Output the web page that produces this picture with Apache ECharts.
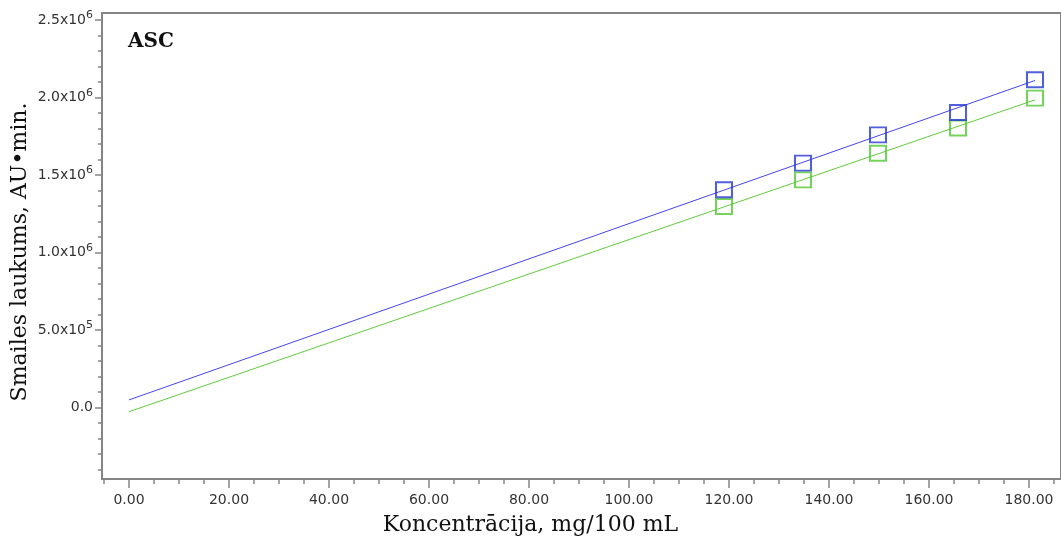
<!DOCTYPE html>
<html>
<head>
<meta charset="utf-8">
<script src="https://cdn.jsdelivr.net/npm/echarts@6/dist/echarts.min.js"></script>
<style>
  html, body { margin: 0; padding: 0; background: #fff; }
  #chart { width: 1061px; height: 546px; }
</style>
</head>
<body>
<div id="chart"></div>
<script>
// measured standards (ASC)
const conc = [119.0, 134.8, 149.8, 165.8, 181.2];
const blueArea = [1405000, 1577000, 1759000, 1903000, 2114000];
const greenArea = [1297000, 1469000, 1641000, 1803000, 1996000];

// calibration lines (end points of the fitted lines)
const fitConc = [0, 181.2];
const blueFit = [50000, 2110000];
const greenFit = [-26000, 1985000];

// axes
const xTicks = [0, 20, 40, 60, 80, 100, 120, 140, 160, 180];
const xTickLabels = ["0.00", "20.00", "40.00", "60.00", "80.00", "100.00", "120.00", "140.00", "160.00", "180.00"];
const yTicks = [0, 500000, 1000000, 1500000, 2000000, 2500000];
const yTickLabels = ["0.0", "5.0x10^5", "1.0x10^6", "1.5x10^6", "2.0x10^6", "2.5x10^6"];
const xMinor = [];
for (let v = -5; v <= 185; v += 5) xMinor.push(v);
const yMinor = [];
for (let v = -400000; v <= 2500000; v += 100000) yMinor.push(v);

const X_MIN = -5.4, X_MAX = 186.4;
const Y_MIN = -460000, Y_MAX = 2545000;

const axisGray = "#858585";
const pairs = (xs, ys) => xs.map((x, i) => [x, ys[i]]);

const chart = echarts.init(document.getElementById("chart"), null, { renderer: "canvas" });

const gridRect = { left: 102, top: 13, right: 0, bottom: 67, containLabel: false, outerBoundsMode: "none" };

chart.setOption({
  animation: false,
  backgroundColor: "#fff",
  grid: [
    { ...gridRect, show: true, borderColor: axisGray, borderWidth: 2 },
    { ...gridRect, show: false }
  ],
  title: {
    text: "ASC",
    left: 123,
    top: 27,
    textStyle: { fontFamily: "DejaVu Serif", fontWeight: "bold", fontSize: 20, color: "#111" }
  },
  xAxis: [
    {
      gridIndex: 0,
      type: "value",
      min: X_MIN,
      max: X_MAX,
      name: "Koncentrācija, mg/100 mL",
      nameLocation: "middle",
      nameGap: 35,
      nameMoveOverlap: false,
      nameTextStyle: { fontFamily: "DejaVu Serif", fontSize: 22, color: "#111", padding: [0, 102, 0, 0] },
      axisLine: { show: true, onZero: false, lineStyle: { color: axisGray, width: 2 } },
      axisTick: { show: true, customValues: xTicks, length: 9, lineStyle: { color: axisGray, width: 1.5 } },
      axisLabel: {
        customValues: xTicks,
        margin: 14,
        fontFamily: "DejaVu Sans",
        fontSize: 14,
        color: "#333",
        formatter: (v) => xTickLabels[xTicks.indexOf(v)] ?? ""
      },
      splitLine: { show: false }
    },
    {
      gridIndex: 1,
      type: "value",
      min: X_MIN,
      max: X_MAX,
      axisLine: { show: false, onZero: false },
      axisTick: { show: true, customValues: xMinor, length: 5, lineStyle: { color: axisGray, width: 1.5 } },
      axisLabel: { show: false },
      splitLine: { show: false }
    }
  ],
  yAxis: [
    {
      gridIndex: 0,
      type: "value",
      min: Y_MIN,
      max: Y_MAX,
      name: "Smailes laukums, AU•min.",
      nameLocation: "middle",
      nameGap: 71,
      nameMoveOverlap: false,
      nameRotate: 90,
      nameTextStyle: { fontFamily: "DejaVu Serif", fontSize: 22, color: "#111", padding: [0, 12, 0, 0] },
      axisLine: { show: true, onZero: false, lineStyle: { color: axisGray, width: 2 } },
      axisTick: { show: true, customValues: yTicks, length: 7, lineStyle: { color: axisGray, width: 1.5 } },
      axisLabel: {
        customValues: yTicks,
        margin: 9,
        fontFamily: "DejaVu Sans",
        fontSize: 14,
        color: "#333",
        formatter: (v) => {
          const s = yTickLabels[yTicks.indexOf(v)] ?? "";
          const [m, e] = s.split("^");
          return e ? `{m|${m}}{e|${e}}` : `{z|${m}}`;
        },
        rich: {
          m: { fontFamily: "DejaVu Sans", fontSize: 14, color: "#333", lineHeight: 20 },
          e: { fontFamily: "DejaVu Sans", fontSize: 11, color: "#333", lineHeight: 10, verticalAlign: "top" },
          z: { fontFamily: "DejaVu Sans", fontSize: 14, color: "#333", lineHeight: 20 }
        }
      },
      splitLine: { show: false }
    },
    {
      gridIndex: 1,
      type: "value",
      min: Y_MIN,
      max: Y_MAX,
      axisLine: { show: false, onZero: false },
      axisTick: { show: true, customValues: yMinor, length: 4, lineStyle: { color: axisGray, width: 1.5 } },
      axisLabel: { show: false },
      splitLine: { show: false }
    }
  ],
  series: [
    {
      name: "fit blue",
      type: "line",
      data: pairs(fitConc, blueFit),
      showSymbol: false,
      lineStyle: { color: "#4646ee", width: 1 },
      z: 1
    },
    {
      name: "fit green",
      type: "line",
      data: pairs(fitConc, greenFit),
      showSymbol: false,
      lineStyle: { color: "#62cc3e", width: 1 },
      z: 1
    },
    {
      name: "green",
      type: "scatter",
      data: pairs(conc, greenArea),
      symbol: "rect",
      symbolSize: [16, 15],
      itemStyle: { color: "rgba(0,0,0,0)", borderColor: "#52c833", borderWidth: 2 },
      z: 3
    },
    {
      name: "blue",
      type: "scatter",
      data: pairs(conc, blueArea),
      symbol: "rect",
      symbolSize: [16, 15],
      itemStyle: { color: "rgba(0,0,0,0)", borderColor: "#2638d0", borderWidth: 2 },
      z: 4
    }
  ]
});
</script>
</body>
</html>
